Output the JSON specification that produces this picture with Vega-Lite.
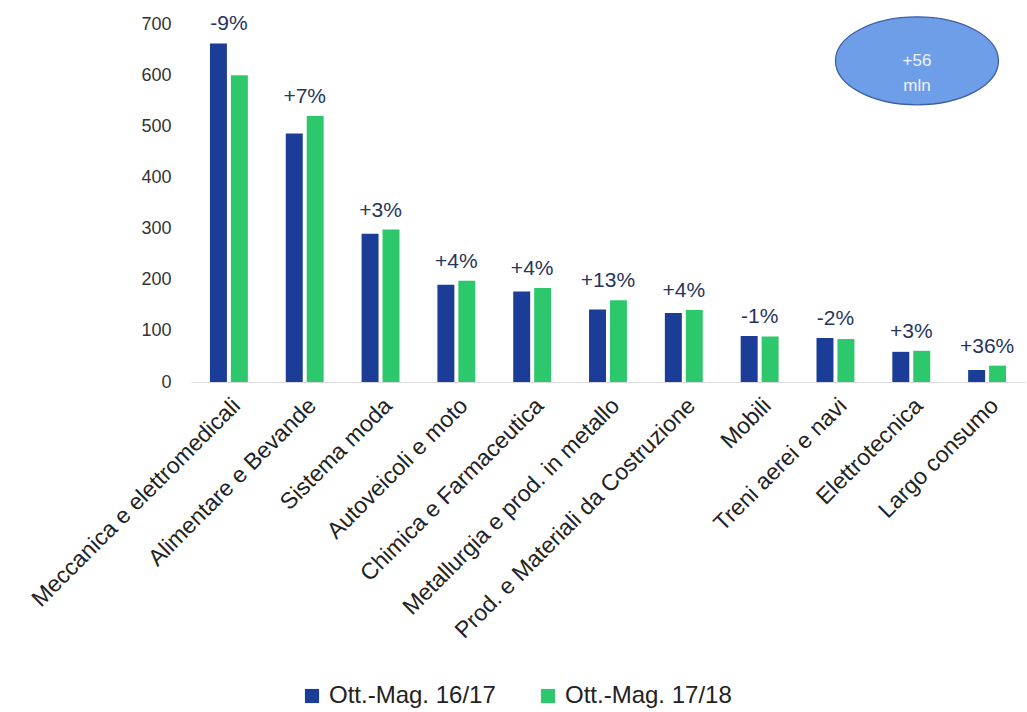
{
  "$schema": "https://vega.github.io/schema/vega-lite/v6.json",
  "width": 834,
  "height": 358,
  "autosize": {"type": "none"},
  "padding": {"left": 191, "top": 24, "right": 2, "bottom": 330},
  "background": "white",
  "config": {"view": {"stroke": null}, "font": "Liberation Sans"},
  "datasets": {
    "bars": [
      {"cat": "Meccanica e elettromedicali", "period": "Ott.-Mag. 16/17", "value": 662, "pct": "-9%"},
      {"cat": "Meccanica e elettromedicali", "period": "Ott.-Mag. 17/18", "value": 600, "pct": "-9%"},
      {"cat": "Alimentare e Bevande", "period": "Ott.-Mag. 16/17", "value": 486, "pct": "+7%"},
      {"cat": "Alimentare e Bevande", "period": "Ott.-Mag. 17/18", "value": 520, "pct": "+7%"},
      {"cat": "Sistema moda", "period": "Ott.-Mag. 16/17", "value": 290, "pct": "+3%"},
      {"cat": "Sistema moda", "period": "Ott.-Mag. 17/18", "value": 298, "pct": "+3%"},
      {"cat": "Autoveicoli e moto", "period": "Ott.-Mag. 16/17", "value": 190, "pct": "+4%"},
      {"cat": "Autoveicoli e moto", "period": "Ott.-Mag. 17/18", "value": 198, "pct": "+4%"},
      {"cat": "Chimica e Farmaceutica", "period": "Ott.-Mag. 16/17", "value": 177, "pct": "+4%"},
      {"cat": "Chimica e Farmaceutica", "period": "Ott.-Mag. 17/18", "value": 184, "pct": "+4%"},
      {"cat": "Metallurgia e prod. in metallo", "period": "Ott.-Mag. 16/17", "value": 142, "pct": "+13%"},
      {"cat": "Metallurgia e prod. in metallo", "period": "Ott.-Mag. 17/18", "value": 160, "pct": "+13%"},
      {"cat": "Prod. e Materiali da Costruzione", "period": "Ott.-Mag. 16/17", "value": 135, "pct": "+4%"},
      {"cat": "Prod. e Materiali da Costruzione", "period": "Ott.-Mag. 17/18", "value": 141, "pct": "+4%"},
      {"cat": "Mobili", "period": "Ott.-Mag. 16/17", "value": 90, "pct": "-1%"},
      {"cat": "Mobili", "period": "Ott.-Mag. 17/18", "value": 89, "pct": "-1%"},
      {"cat": "Treni aerei e navi", "period": "Ott.-Mag. 16/17", "value": 86, "pct": "-2%"},
      {"cat": "Treni aerei e navi", "period": "Ott.-Mag. 17/18", "value": 84, "pct": "-2%"},
      {"cat": "Elettrotecnica", "period": "Ott.-Mag. 16/17", "value": 59, "pct": "+3%"},
      {"cat": "Elettrotecnica", "period": "Ott.-Mag. 17/18", "value": 61, "pct": "+3%"},
      {"cat": "Largo consumo", "period": "Ott.-Mag. 16/17", "value": 23.5, "pct": "+36%"},
      {"cat": "Largo consumo", "period": "Ott.-Mag. 17/18", "value": 32, "pct": "+36%"}
    ],
    "note": [
      {"cat": "Elettrotecnica", "value": 628, "text": "+56\nmln"}
    ]
  },
  "layer": [
    {
      "data": {"name": "bars"},
      "mark": {"type": "bar"},
      "encoding": {
        "x": {
          "field": "cat", "type": "nominal",
          "sort": ["Meccanica e elettromedicali", "Alimentare e Bevande", "Sistema moda", "Autoveicoli e moto", "Chimica e Farmaceutica", "Metallurgia e prod. in metallo", "Prod. e Materiali da Costruzione", "Mobili", "Treni aerei e navi", "Elettrotecnica", "Largo consumo"],
          "scale": {"paddingInner": 0.5, "paddingOuter": 0.25},
          "axis": {"title": null, "labelAngle": -45, "labelAlign": "right", "labelBaseline": "top", "ticks": false, "domainColor": "#d9d9d9", "labelFontSize": 23, "labelColor": "#222222", "labelPadding": 12, "labelLimit": 0}
        },
        "xOffset": {"field": "period", "type": "nominal", "sort": ["Ott.-Mag. 16/17", "Ott.-Mag. 17/18"], "scale": {"paddingInner": 0.19}},
        "y": {
          "field": "value", "type": "quantitative",
          "scale": {"domain": [0, 700]},
          "axis": {"title": null, "domain": false, "ticks": false, "grid": false, "labelFontSize": 18, "labelColor": "#333333", "labelPadding": 20, "values": [0, 100, 200, 300, 400, 500, 600, 700]}
        },
        "color": {
          "field": "period", "type": "nominal",
          "scale": {"domain": ["Ott.-Mag. 16/17", "Ott.-Mag. 17/18"], "range": ["#1b3d98", "#2dc86c"]},
          "legend": {"orient": "none", "legendX": 109, "legendY": 660, "direction": "horizontal", "title": null, "symbolType": "square", "symbolSize": 200, "labelFontSize": 24, "labelColor": "#222222", "columnPadding": 40, "labelOffset": 5, "symbolStrokeWidth": 0, "labelLimit": 0}
        }
      }
    },
    {
      "data": {"name": "bars"},
      "mark": {"type": "text", "baseline": "bottom", "dy": -9, "fontSize": 21, "color": "#26345e"},
      "encoding": {
        "x": {"field": "cat", "type": "nominal", "sort": ["Meccanica e elettromedicali", "Alimentare e Bevande", "Sistema moda", "Autoveicoli e moto", "Chimica e Farmaceutica", "Metallurgia e prod. in metallo", "Prod. e Materiali da Costruzione", "Mobili", "Treni aerei e navi", "Elettrotecnica", "Largo consumo"]},
        "y": {"aggregate": "max", "field": "value", "type": "quantitative"},
        "text": {"field": "pct", "type": "nominal"}
      }
    },
    {
      "data": {"name": "note"},
      "mark": {"type": "point", "shape": "M -1 0 A 1 0.54 0 1 0 1 0 A 1 0.54 0 1 0 -1 0 Z", "size": 26569, "filled": true, "color": "#6f9ee8", "fill": "#6f9ee8", "stroke": "#3f5fa5", "strokeWidth": 1.3, "opacity": 1},
      "encoding": {
        "x": {"field": "cat", "type": "nominal", "bandPosition": 0.65, "sort": ["Meccanica e elettromedicali", "Alimentare e Bevande", "Sistema moda", "Autoveicoli e moto", "Chimica e Farmaceutica", "Metallurgia e prod. in metallo", "Prod. e Materiali da Costruzione", "Mobili", "Treni aerei e navi", "Elettrotecnica", "Largo consumo"]},
        "y": {"field": "value", "type": "quantitative"}
      }
    },
    {
      "data": {"name": "note"},
      "mark": {"type": "text", "lineBreak": "\n", "fontSize": 17, "color": "#eef3ff", "lineHeight": 25, "baseline": "middle"},
      "encoding": {
        "x": {"field": "cat", "type": "nominal", "bandPosition": 0.65, "sort": ["Meccanica e elettromedicali", "Alimentare e Bevande", "Sistema moda", "Autoveicoli e moto", "Chimica e Farmaceutica", "Metallurgia e prod. in metallo", "Prod. e Materiali da Costruzione", "Mobili", "Treni aerei e navi", "Elettrotecnica", "Largo consumo"]},
        "y": {"field": "value", "type": "quantitative"},
        "text": {"field": "text", "type": "nominal"}
      }
    }
  ]
}
